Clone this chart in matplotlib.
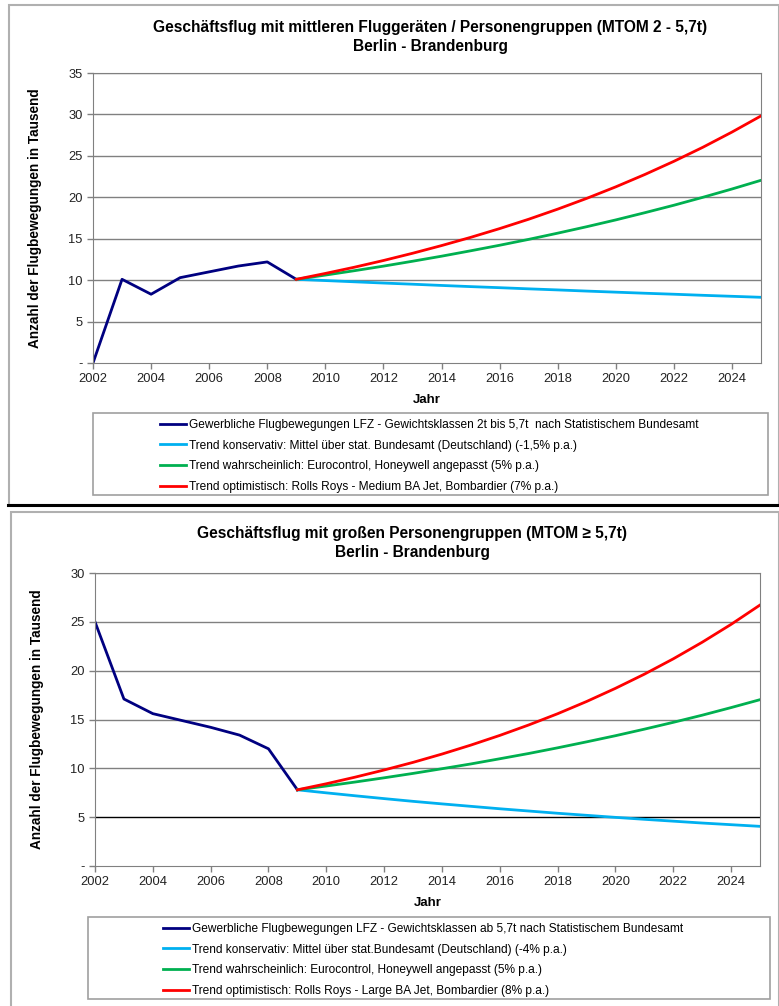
import matplotlib
matplotlib.use('Agg')
import matplotlib.pyplot as plt
from matplotlib.patches import Rectangle
from matplotlib.lines import Line2D

plt.rcParams['font.family'] = ['Liberation Sans', 'DejaVu Sans']

# historical values (Statistisches Bundesamt), thousands of movements
years_hist = [2002, 2003, 2004, 2005, 2006, 2007, 2008, 2009]
years_trend = list(range(2009, 2026))

mid_hist = [0.0, 10.1, 8.3, 10.3, 11.0, 11.7, 12.2, 10.1]
mid_kons = [10.1, 9.95, 9.80, 9.65, 9.51, 9.36, 9.22, 9.09, 8.95, 8.82, 8.68, 8.55, 8.42, 8.30, 8.17, 8.05, 7.93]
mid_wahr = [10.1, 10.61, 11.14, 11.69, 12.28, 12.89, 13.54, 14.21, 14.92, 15.67, 16.45, 17.27, 18.14, 19.04, 20.00, 21.00, 22.05]
mid_opt = [10.1, 10.81, 11.56, 12.37, 13.24, 14.17, 15.16, 16.22, 17.35, 18.57, 19.87, 21.26, 22.75, 24.34, 26.04, 27.87, 29.82]

gr_hist = [25.0, 17.1, 15.6, 14.9, 14.2, 13.4, 12.0, 7.8]
gr_kons = [7.8, 7.49, 7.19, 6.90, 6.62, 6.36, 6.11, 5.86, 5.63, 5.40, 5.19, 4.98, 4.78, 4.59, 4.40, 4.23, 4.06]
gr_wahr = [7.8, 8.19, 8.60, 9.03, 9.48, 9.96, 10.45, 10.98, 11.52, 12.10, 12.71, 13.34, 14.01, 14.71, 15.44, 16.22, 17.03]
gr_opt = [7.8, 8.42, 9.10, 9.83, 10.61, 11.46, 12.38, 13.37, 14.44, 15.59, 16.84, 18.19, 19.64, 21.21, 22.91, 24.74, 26.72]

mid_title = 'Geschäftsflug mit mittleren Fluggeräten / Personengruppen (MTOM 2 - 5,7t)\nBerlin - Brandenburg'
gr_title = 'Geschäftsflug mit großen Personengruppen (MTOM ≥ 5,7t)\nBerlin - Brandenburg'

mid_labels = ['Gewerbliche Flugbewegungen LFZ - Gewichtsklassen 2t bis 5,7t  nach Statistischem Bundesamt',
              'Trend konservativ: Mittel über stat. Bundesamt (Deutschland) (-1,5% p.a.)',
              'Trend wahrscheinlich: Eurocontrol, Honeywell angepasst (5% p.a.)',
              'Trend optimistisch: Rolls Roys - Medium BA Jet, Bombardier (7% p.a.)']
gr_labels = ['Gewerbliche Flugbewegungen LFZ - Gewichtsklassen ab 5,7t nach Statistischem Bundesamt',
             'Trend konservativ: Mittel über stat.Bundesamt (Deutschland) (-4% p.a.)',
             'Trend wahrscheinlich: Eurocontrol, Honeywell angepasst (5% p.a.)',
             'Trend optimistisch: Rolls Roys - Large BA Jet, Bombardier (8% p.a.)']

colors = ['#000080', '#00B0F0', '#00B050', '#FF0000']
W, H = 779, 1006

fig = plt.figure(figsize=(W / 100, H / 100), dpi=100)


def px_box(l, t, r, b):
    return [l / W, 1 - b / H, (r - l) / W, (b - t) / H]


def draw_panel(box, hist, kons, wahr, opt, ymax, title, tpos, labels, lbox, lpos, black5=False):
    ax = fig.add_axes(px_box(*box))
    ax.plot(years_hist, hist, color=colors[0], lw=2.0)
    ax.plot(years_trend, kons, color=colors[1], lw=2.0)
    ax.plot(years_trend, wahr, color=colors[2], lw=2.0)
    ax.plot(years_trend, opt, color=colors[3], lw=2.0)
    ax.set_xlim(2002, 2025)
    ax.set_ylim(0, ymax)
    ax.set_xticks(range(2002, 2025, 2))
    yt = list(range(0, ymax + 1, 5))
    ax.set_yticks(yt)
    ax.set_yticklabels(['-'] + [str(v) for v in yt[1:]])
    ax.tick_params(labelsize=9.3, colors='#808080', labelcolor='#222222', length=4, width=1)
    for v in yt[1:]:
        c = 'black' if (black5 and v == 5) else '#808080'
        ax.axhline(v, color=c, lw=1, zorder=0.5)
    for s in ax.spines.values():
        s.set_color('#808080')
    ax.set_xlabel('Jahr', fontsize=9.5, fontweight='bold', labelpad=6)
    ax.set_ylabel('Anzahl der Flugbewegungen in Tausend', fontsize=9.8, fontweight='bold', labelpad=19)
    fig.text(tpos[0] / W, 1 - tpos[1] / H, title, ha='center', va='top',
             fontsize=11.2, fontweight='bold', linespacing=1.3)
    # legend frame and entries
    l, t, r, b = lbox
    fig.patches.append(Rectangle((l / W, 1 - b / H), (r - l) / W, (b - t) / H,
                                 transform=fig.transFigure, fill=False,
                                 edgecolor='#A0A0A0', lw=1.2))
    handles = [Line2D([], [], color=c, lw=2.0) for c in colors]
    fig.legend(handles, labels, loc='upper left', frameon=False,
               bbox_to_anchor=(lpos[0] / W, 1 - lpos[1] / H),
               fontsize=8.6, handlelength=2.2, handletextpad=0.25,
               labelspacing=0.72, borderpad=0, borderaxespad=0)
    return ax


# outer panel frames
fig.patches.append(Rectangle((9 / W, 1 - 505 / H), (W - 9) / W, 500 / H,
                             transform=fig.transFigure, fill=False,
                             edgecolor='#B0B0B0', lw=1.5))
fig.patches.append(Rectangle((11 / W, 1 - 1010 / H), (W - 11) / W, 498 / H,
                             transform=fig.transFigure, fill=False,
                             edgecolor='#B0B0B0', lw=1.5))
fig.lines.append(Line2D([8 / W, 1], [1 - 505 / H, 1 - 505 / H],
                        transform=fig.transFigure, color='black', lw=2.2))

draw_panel((93, 73, 761, 363), mid_hist, mid_kons, mid_wahr, mid_opt, 35,
           mid_title, (430, 20), mid_labels, (93, 413, 768, 495), (160, 419))
draw_panel((95, 573, 760, 866), gr_hist, gr_kons, gr_wahr, gr_opt, 30,
           gr_title, (412, 526), gr_labels, (88, 917, 770, 999), (163, 923), black5=True)

fig.savefig('out.png', dpi=100)
